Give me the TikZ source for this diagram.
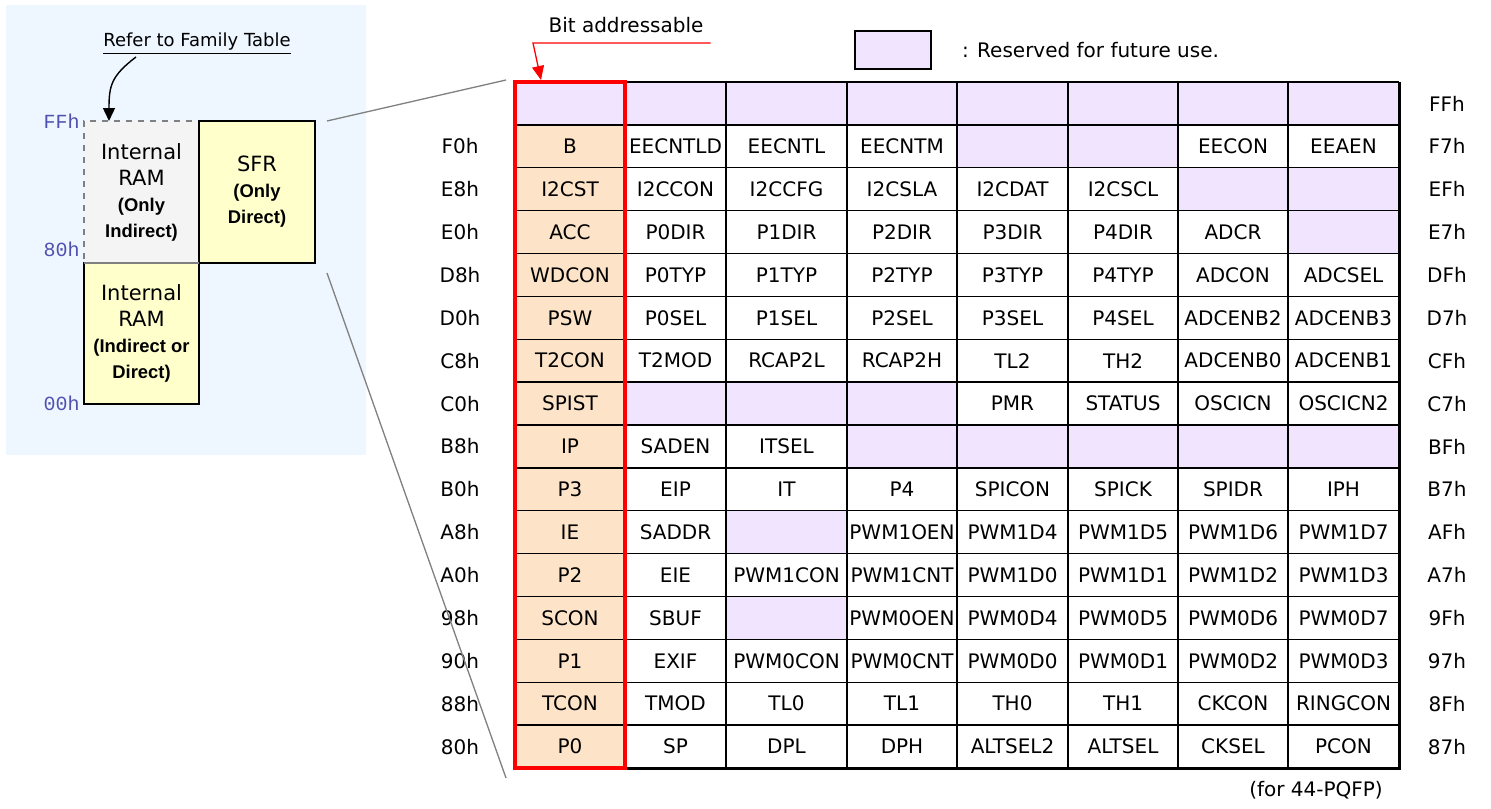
\documentclass[tikz,border=0pt]{standalone}
\usepackage{fontspec}
\setmainfont{DejaVu Sans}
\setmonofont{Liberation Mono}
\newfontfamily\subfam{Liberation Sans}
\usepackage{tikz}
\usetikzlibrary{positioning, calc, arrows.meta}
\definecolor{panelbg}{RGB}{238,247,255}
\definecolor{resv}{RGB}{240,228,255}
\definecolor{bitfill}{RGB}{253,228,200}
\definecolor{sfryel}{RGB}{255,255,204}
\definecolor{ramgray}{RGB}{244,244,244}
\definecolor{addrblue}{RGB}{80,80,176}
\newcommand{\subfnt}{\subfam\bfseries\fontsize{9.2}{10.5}\selectfont}

\begin{document}
\begin{tikzpicture}[
    x = 0.5pt, y = -0.5pt,
    font = \fontsize{10}{12}\selectfont,
    cell/.style = {
      inner sep = 0pt, anchor = center
    },
    grid/.style = {
      draw = black, line width = 0.7pt
    },
    rsvd/.style = {
      fill = resv
    },
    membox/.style = {
      rectangle, draw, line width = 1.1pt, fill = sfryel, outer sep = 0pt,
      inner sep = 0pt, align = center, font = \fontsize{10.5}{13}\selectfont
    },
    addr/.style = {
      font = \ttfamily\fontsize{10}{12}\selectfont, text = addrblue,
      anchor = east, inner sep = 0pt
    },
    zoomline/.style = {
      draw = gray, line width = 0.65pt
    },
    refarrow/.style = {
      -{Triangle[length = 6.5pt, width = 6pt]}, line width = 0.7pt
    },
    redarrow/.style = {
      -{Triangle[length = 7pt, width = 6pt]}, draw = red, line width = 0.65pt
    },
    ]

    % canvas and memory map panel
    \fill [white] (0,0) rectangle (1491,808);
    \useasboundingbox (0,0) rectangle (1491,808);
    \fill [panelbg] (6,5) rectangle (366,455);

    % draw memory blocks
    \node  [membox, fill = ramgray, draw = gray, dashed, line width = 0.6pt,
            minimum width = 57.5pt, minimum height = 71pt]  (ramhi)  at (141.5,192)
           {Internal\\RAM\\\subfnt (Only\\\subfnt Indirect)};
    \node  [membox, minimum width = 57.5pt, minimum height = 70.5pt]  (ramlo)
           [below = 0pt of ramhi]  {Internal\\RAM\\\subfnt (Indirect or\\\subfnt Direct)};
    \node  [membox, minimum width = 58pt, minimum height = 71pt]  (sfr)
           [right = 0pt of ramhi]  {SFR\\\subfnt (Only\\\subfnt Direct)};
    \draw  [gray, line width = 1.1pt]  (ramlo.north west) -- (ramlo.north east);

    % draw addresses
    \node  [addr]  (aFF)  at (80,121)  {FFh};
    \node  [addr]  (a80)  at (80,249)  {80h};
    \node  [addr]  (a00)  at (80,403)  {00h};

    % family table note
    \node  [font = \fontsize{9}{11}\selectfont]  (refer)  at (197,44)
           {\underline{Refer to Family Table}};
    \coordinate  (refstart)  at (136,57);
    \draw  [refarrow]  (refstart) .. controls (111,76) and (109,86) .. ($(ramhi.north west)+(25,0)$);

    % draw cell fills
    \foreach \c/\xa/\xb in {0/515/625, 1/625/726, 2/726/847, 3/847/957,
                            4/957/1068, 5/1068/1178, 6/1178/1288, 7/1288/1399} {
      \coordinate  (cl\c)  at (\xa,0);
      \coordinate  (cr\c)  at (\xb,0);
      \coordinate  (cc\c)  at ({(\xa+\xb)/2},0);
    }
    \foreach \r in {0, ..., 15} {
      \coordinate  (rt\r)  at (0,{82+42.875*\r});
      \coordinate  (rb\r)  at (0,{82+42.875*(\r+1)});
      \coordinate  (rc\r)  at (0,{82+42.875*(\r+0.5)});
    }
    \coordinate  (lx)  at (460,0);
    \coordinate  (rx)  at (1447,0);

    \fill  [bitfill]  (cl0 |- rt1) rectangle (cr0 |- rb15);
    \foreach \c/\r in {0/0, 1/0, 2/0, 3/0, 4/0, 5/0, 6/0, 7/0, 4/1, 5/1, 6/2, 7/2,
                       7/3, 1/7, 2/7, 3/7, 3/8, 4/8, 5/8, 6/8, 7/8, 2/10, 2/12}
    \fill  [rsvd]  (cl\c |- rt\r) rectangle (cr\c |- rb\r);

    % draw grid
    \foreach \r in {0, ..., 15}
    \draw  [grid]  (cl0 |- rt\r) -- (cr7 |- rt\r);
    \foreach \c in {1, ..., 7}
    \draw  [grid]  (cl\c |- rt0) -- (cl\c |- rb15);
    \draw  [line width = 1.5pt]  (cr7 |- rt0) -- (cr7 |- rb15) -- (cl0 |- rb15);

    % draw registers
    \node  [cell]  (rl0)  at (rx |- rc0)  {FFh};
    \foreach \r/\lft/\rgt/\regs in {
      1/F0h/F7h/{B,EECNTLD,EECNTL,EECNTM,,,EECON,EEAEN},
      2/E8h/EFh/{I2CST,I2CCON,I2CCFG,I2CSLA,I2CDAT,I2CSCL},
      3/E0h/E7h/{ACC,P0DIR,P1DIR,P2DIR,P3DIR,P4DIR,ADCR},
      4/D8h/DFh/{WDCON,P0TYP,P1TYP,P2TYP,P3TYP,P4TYP,ADCON,ADCSEL},
      5/D0h/D7h/{PSW,P0SEL,P1SEL,P2SEL,P3SEL,P4SEL,ADCENB2,ADCENB3},
      6/C8h/CFh/{T2CON,T2MOD,RCAP2L,RCAP2H,TL2,TH2,ADCENB0,ADCENB1},
      7/C0h/C7h/{SPIST,,,,PMR,STATUS,OSCICN,OSCICN2},
      8/B8h/BFh/{IP,SADEN,ITSEL},
      9/B0h/B7h/{P3,EIP,IT,P4,SPICON,SPICK,SPIDR,IPH},
      10/A8h/AFh/{IE,SADDR,,PWM1OEN,PWM1D4,PWM1D5,PWM1D6,PWM1D7},
      11/A0h/A7h/{P2,EIE,PWM1CON,PWM1CNT,PWM1D0,PWM1D1,PWM1D2,PWM1D3},
      12/98h/9Fh/{SCON,SBUF,,PWM0OEN,PWM0D4,PWM0D5,PWM0D6,PWM0D7},
      13/90h/97h/{P1,EXIF,PWM0CON,PWM0CNT,PWM0D0,PWM0D1,PWM0D2,PWM0D3},
      14/88h/8Fh/{TCON,TMOD,TL0,TL1,TH0,TH1,CKCON,RINGCON},
      15/80h/87h/{P0,SP,DPL,DPH,ALTSEL2,ALTSEL,CKSEL,PCON}} {
      \node  [cell]  (ll\r)  at (lx |- rc\r)  {\lft};
      \node  [cell]  (rl\r)  at (rx |- rc\r)  {\rgt};
      \foreach \t [count = \c from 0] in \regs {
        \ifx\t\empty\else
        \node  [cell]  (reg-\r-\c)  at (cc\c |- rc\r)  {\t};
        \fi
      }
    }

    % bit addressable frame and note
    \node  [draw = red, line width = 2pt, inner sep = 0pt, minimum width = 55pt,
            minimum height = 343pt]  (bitbox)  at (570,425)  {};
    \node  (bitlbl)  at (626,25)  {Bit addressable};
    \coordinate  (bitknee)  at (533,43);
    \draw  [redarrow]  (bitknee -| bitlbl.east) -- (bitknee) -- ($(bitbox.north west)+(28,0)$);

    % zoom lines
    \draw  [zoomline]  ($(sfr.north east)+(12,0)$) -- ($(bitbox.north west)+(-7,0)$);
    \draw  [zoomline]  ($(sfr.south east)+(12,10)$) -- ($(bitbox.south west)+(-7,8)$);

    % legend and footnote
    \node  [draw, fill = resv, line width = 0.6pt, minimum width = 38pt,
            minimum height = 19pt]  (legbox)  at (893,50)  {};
    \node  [inner sep = 0pt]  (legtxt)  [right = 15pt of legbox]  {: Reserved for future use.};
    \node  (pkg)  at (1316,790)  {(for 44-PQFP)};

\end{tikzpicture}
\end{document}
